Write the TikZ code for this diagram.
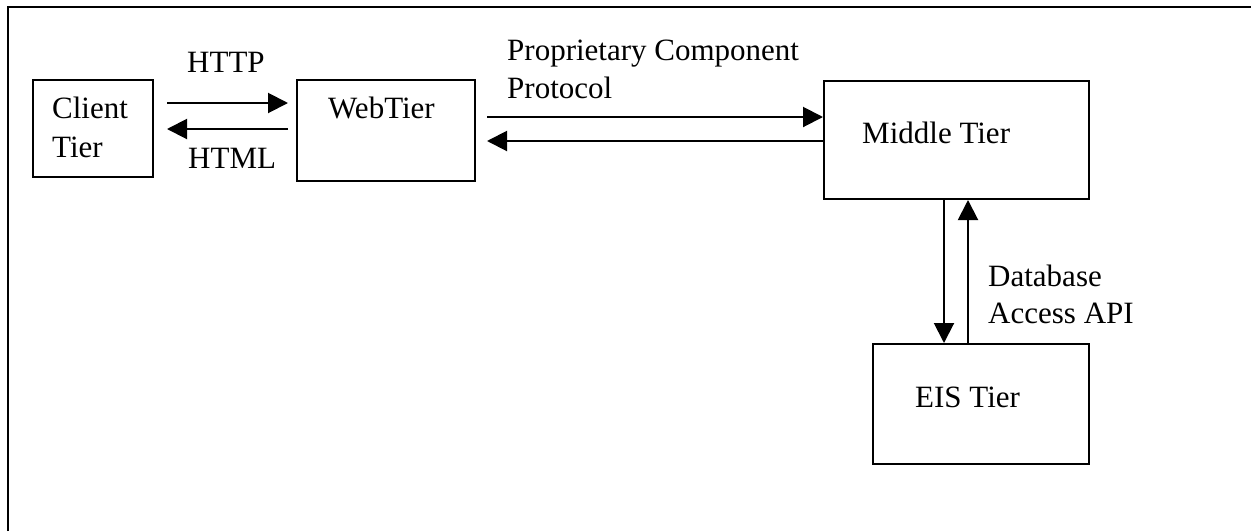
\documentclass[tikz,border=0pt]{standalone}
\usepackage{fontspec}
\setmainfont{Liberation Serif}
\usetikzlibrary{arrows.meta}
\begin{document}
\begin{tikzpicture}[x=1pt,y=-1pt,
  tier/.style={draw,line width=2pt,rectangle,inner sep=0pt,anchor=north west},
  lbl/.style={inner sep=0pt,anchor=base west,align=left,
    font=\fontsize{31}{38}\selectfont},
  arr/.style={line width=2pt,-{Triangle[length=20pt,width=20pt]}}]
\useasboundingbox (0,0) rectangle (1251,531);
% frame
\draw[line width=2.5pt] (8,531) -- (8,7) -- (1251,7);
% tiers
\node[tier,minimum width=120pt,minimum height=97pt] (client) at (32,79) {};
\node[tier,minimum width=178pt,minimum height=101pt] (web) at (296,79) {};
\node[tier,minimum width=265pt,minimum height=118pt] (mid) at (823,80) {};
\node[tier,minimum width=216pt,minimum height=120pt] (eis) at (872,343) {};
% tier names (multi-line labels are placed by their last baseline)
\node[lbl,font=\fontsize{31}{39}\selectfont] (clientname) at (52,157) {Client\\Tier};
\node[lbl] (webname) at (328,118) {WebTier};
\node[lbl] (midname) at (862,143) {Middle Tier};
\node[lbl] (eisname) at (915,407) {EIS Tier};
% connectors between client and web tiers
\coordinate (httpA) at (167,103);
\coordinate (httpB) at (288,103);
\coordinate (htmlA) at (288,129);
\coordinate (htmlB) at (167,129);
\draw[arr] (httpA) -- (httpB);
\draw[arr] (htmlA) -- (htmlB);
\node[lbl] (http) at (187,72) {HTTP};
\node[lbl] (html) at (188,168) {HTML};
% connectors between web and middle tiers
\draw[arr] (487,0 |- 0,117) -- (mid.west |- 0,117);
\draw[arr] (mid.west |- 0,141) -- (487,141);
\node[lbl] (proto) at (507,98) {Proprietary Component\\Protocol};
% connectors between middle and EIS tiers
\draw[arr] (944,0 |- mid.south) -- (944,0 |- eis.north);
\draw[arr] (968,0 |- eis.north) -- (968,0 |- mid.south);
\node[lbl,font=\fontsize{31}{36.5}\selectfont] (dbapi) at (988,323) {Database\\Access API};
\end{tikzpicture}
\end{document}
